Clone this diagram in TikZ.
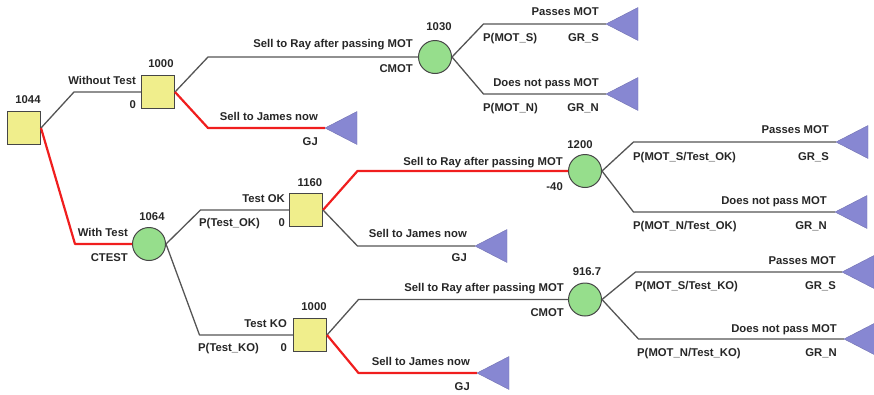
\documentclass[tikz,border=0pt]{standalone}
\usepackage{fontspec}
\setmainfont{Liberation Sans}
\usetikzlibrary{calc}
\definecolor{decfill}{RGB}{240,238,140}
\definecolor{chfill}{RGB}{150,222,140}
\definecolor{leaffill}{RGB}{135,135,210}
\definecolor{edgegray}{RGB}{85,85,85}
\definecolor{optred}{RGB}{240,30,30}
\definecolor{rimgray}{RGB}{70,70,70}
\begin{document}
\begin{tikzpicture}[x=1pt,y=-1pt,
  lbl/.style={font=\fontsize{11.3}{13}\selectfont\bfseries, text=black!85, inner sep=0pt, text height=8pt, text depth=0pt},
  decision/.style={rectangle, draw=rimgray, fill=decfill, line width=1pt, minimum size=33pt, inner sep=0pt},
  chance/.style={circle, draw=rimgray, fill=chfill, line width=1pt, minimum size=33pt, inner sep=0pt},
  branch/.style={draw=edgegray, line width=1.3pt, line join=round},
  optimal/.style={draw=optred, line width=2.2pt, line join=round},
  leaf/.style={fill=leaffill, draw=leaffill!85!black, line width=0.4pt}
]
\useasboundingbox (0,0) rectangle (874,394);

% ---- nodes of the tree ----
\node[decision] (root) at (24,128) {};
\node[decision] (nt)   at (158,92) {};
\node[chance]   (cm1)  at (435,57) {};
\node[chance]   (ct)   at (149,244) {};
\node[decision] (ok)   at (306,210) {};
\node[decision] (ko)   at (310,335) {};
\node[chance]   (cmOK) at (585,171) {};
\node[chance]   (cmKO) at (585,299.5) {};

% terminal tips
\coordinate (lfA) at (606,24);
\coordinate (lfB) at (606,94);
\coordinate (gjA) at (325,128);
\coordinate (gjB) at (475,246);
\coordinate (gjC) at (477,373);
\coordinate (lfC) at (836,142);
\coordinate (lfD) at (835,212);
\coordinate (lfE) at (842,272);
\coordinate (lfF) at (844,339);

% ---- branches ----
\draw[branch]  (root.east) -- ($(root.east |- nt.west)+(33,0)$) -- (nt.west);
\draw[optimal] (root.east) -- ($(root.east |- ct.west)+(34,0)$) -- (ct.west);
\draw[branch]  (nt.east) -- ($(nt.east |- cm1.west)+(33,0)$) -- (cm1.west);
\draw[optimal] (nt.east) -- ($(nt.east |- gjA)+(33,0)$) -- (gjA);
\draw[branch]  (cm1.east) -- ($(cm1.east |- lfA)+(31.5,0)$) -- (lfA);
\draw[branch]  (cm1.east) -- ($(cm1.east |- lfB)+(31.5,0)$) -- (lfB);
\draw[branch]  (ct.east) -- ($(ct.east |- ok.west)+(34.5,0)$) -- (ok.west);
\draw[branch]  (ct.east) -- ($(ct.east |- ko.west)+(33.5,0)$) -- (ko.west);
\draw[optimal] (ok.east) -- ($(ok.east |- cmOK.west)+(34.5,0)$) -- (cmOK.west);
\draw[branch]  (ok.east) -- ($(ok.east |- gjB)+(34.5,0)$) -- (gjB);
\draw[branch]  (ko.east) -- ($(ko.east |- cmKO.west)+(31.5,0)$) -- (cmKO.west);
\draw[optimal] (ko.east) -- ($(ko.east |- gjC)+(31.5,0)$) -- (gjC);
\draw[branch]  (cmOK.east) -- ($(cmOK.east |- lfC)+(31.5,0)$) -- (lfC);
\draw[branch]  (cmOK.east) -- ($(cmOK.east |- lfD)+(31.5,0)$) -- (lfD);
\draw[branch]  (cmKO.east) -- ($(cmKO.east |- lfE)+(33.5,0)$) -- (lfE);
\draw[branch]  (cmKO.east) -- ($(cmKO.east |- lfF)+(36.5,0)$) -- (lfF);

% ---- terminal triangles ----
\foreach \t in {lfA,lfB,gjA,gjB,gjC,lfC,lfD,lfE,lfF}
  \filldraw[leaf] (\t) -- +(32,-16.5) -- +(32,16.5) -- cycle;

% ---- node values ----
\node[lbl] (v1044)  at (28,99)    {1044};
\node[lbl] (v1000a) at (161,63.5) {1000};
\node[lbl] (v1030)  at (439,26.5) {1030};
\node[lbl] (v1064)  at (152,216.5){1064};
\node[lbl] (v1160)  at (310,182)  {1160};
\node[lbl] (v1200)  at (580,144.5){1200};
\node[lbl] (v1000b) at (314,306.5){1000};
\node[lbl] (v9167)  at (587,271)  {916.7};

% ---- branch labels ----
\node[lbl,anchor=east] (lWT)  at (136,80.5)  {Without Test};
\node[lbl,anchor=east] (cWT)  at (136,104.5) {0};
\node[lbl,anchor=east] (lWiT) at (128,232)   {With Test};
\node[lbl,anchor=east] (cWiT) at (128,257)   {CTEST};

\node[lbl,anchor=east] (lR1) at (413,43)    {Sell to Ray after passing MOT};
\node[lbl,anchor=east] (cR1) at (413,68.5)  {CMOT};
\node[lbl,anchor=east] (lJ1) at (318,116.5) {Sell to James now};
\node[lbl,anchor=east] (cJ1) at (318,141)   {GJ};

\node[lbl,anchor=east] (lS1) at (599,11)    {Passes MOT};
\node[lbl,anchor=west] (pS1) at (483,37)    {P(MOT\_S)};
\node[lbl,anchor=east] (gS1) at (599,37)    {GR\_S};
\node[lbl,anchor=east] (lN1) at (599,82.5)  {Does not pass MOT};
\node[lbl,anchor=west] (pN1) at (483,107.5) {P(MOT\_N)};
\node[lbl,anchor=east] (gN1) at (599,107.5) {GR\_N};

\node[lbl,anchor=east] (lOK) at (285,198)   {Test OK};
\node[lbl,anchor=west] (pOK) at (199,222)   {P(Test\_OK)};
\node[lbl,anchor=east] (cOK) at (285,222)   {0};
\node[lbl,anchor=east] (lR2) at (563,161.5) {Sell to Ray after passing MOT};
\node[lbl,anchor=east] (cR2) at (563,186)   {-40};
\node[lbl,anchor=east] (lJ2) at (467,233.5) {Sell to James now};
\node[lbl,anchor=east] (cJ2) at (467,257.5) {GJ};

\node[lbl,anchor=east] (lS2) at (829,129.5) {Passes MOT};
\node[lbl,anchor=west] (pS2) at (633,156)   {P(MOT\_S/Test\_OK)};
\node[lbl,anchor=east] (gS2) at (829,156)   {GR\_S};
\node[lbl,anchor=east] (lN2) at (827,200)   {Does not pass MOT};
\node[lbl,anchor=west] (pN2) at (633,225)   {P(MOT\_N/Test\_OK)};
\node[lbl,anchor=east] (gN2) at (827,225)   {GR\_N};

\node[lbl,anchor=east] (lKO) at (287,323)   {Test KO};
\node[lbl,anchor=west] (pKO) at (198,347.5) {P(Test\_KO)};
\node[lbl,anchor=east] (cKO) at (287,347.5) {0};
\node[lbl,anchor=east] (lR3) at (564,287.5) {Sell to Ray after passing MOT};
\node[lbl,anchor=east] (cR3) at (564,312)   {CMOT};
\node[lbl,anchor=east] (lJ3) at (470,361.5) {Sell to James now};
\node[lbl,anchor=east] (cJ3) at (470,386.5) {GJ};

\node[lbl,anchor=east] (lS3) at (836,260.5) {Passes MOT};
\node[lbl,anchor=west] (pS3) at (635,285)   {P(MOT\_S/Test\_KO)};
\node[lbl,anchor=east] (gS3) at (836,285)   {GR\_S};
\node[lbl,anchor=east] (lN3) at (837,328)   {Does not pass MOT};
\node[lbl,anchor=west] (pN3) at (637,352.5) {P(MOT\_N/Test\_KO)};
\node[lbl,anchor=east] (gN3) at (837,352.5) {GR\_N};
\end{tikzpicture}
\end{document}
